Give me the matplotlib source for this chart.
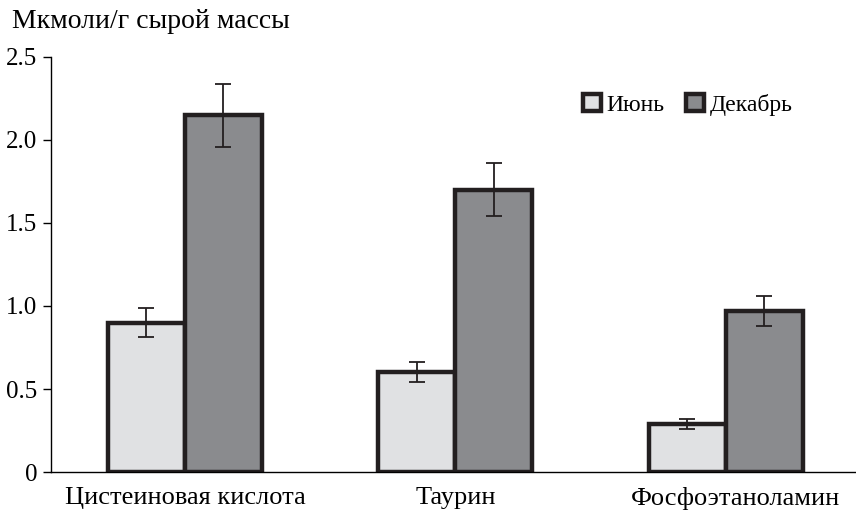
import matplotlib
matplotlib.use("Agg")
import matplotlib.pyplot as plt
import matplotlib.transforms as mtransforms
import numpy as np

categories = ["Цистеиновая кислота", "Таурин", "Фосфоэтаноламин"]
series_names = ["Июнь", "Декабрь"]
june = [0.90, 0.60, 0.29]
june_err = [0.085, 0.06, 0.03]
december = [2.15, 1.70, 0.97]
december_err = [0.19, 0.16, 0.09]
yticks = [0, 0.5, 1.0, 1.5, 2.0, 2.5]
ytick_labels = ["0", "0.5", "1.0", "1.5", "2.0", "2.5"]

plt.rcParams["font.family"] = ["Liberation Serif", "DejaVu Serif"]

fig = plt.figure(figsize=(8.56, 5.11), dpi=100)
ax = fig.add_axes([0.0596, 0.0763, 0.94, 0.8122])

x = np.arange(len(categories))
w = 0.285
edge = "#231f20"
ax.bar(x - w / 2, june, w, color="#e0e1e3", edgecolor=edge, linewidth=3.2,
       label=series_names[0], zorder=2)
ax.bar(x + w / 2, december, w, color="#8a8b8e", edgecolor=edge, linewidth=3.2,
       label=series_names[1], zorder=2)
ax.errorbar(x - w / 2, june, yerr=june_err, fmt="none", ecolor=edge, elinewidth=1.3,
            capsize=6, capthick=1.3, zorder=3)
ax.errorbar(x + w / 2, december, yerr=december_err, fmt="none", ecolor=edge, elinewidth=1.3,
            capsize=6, capthick=1.3, zorder=3)

ax.set_xlim(-0.495, 2.48)
ax.set_ylim(0, 2.5)
ax.set_yticks(yticks)
ax.set_yticklabels(ytick_labels, fontsize=18)
ax.set_xticks(x)
ax.set_xticklabels(categories, fontsize=19)
ax.tick_params(axis="x", length=0, pad=11)
ax.tick_params(axis="y", length=6, width=1, direction="out", pad=4)
for s in ["top", "right"]:
    ax.spines[s].set_visible(False)
ax.spines["left"].set_linewidth(1)
ax.spines["bottom"].set_linewidth(1)

# the last category label sits slightly right of its group centre
last = ax.get_xticklabels()[-1]
last.set_transform(last.get_transform()
                   + mtransforms.ScaledTranslation(0.10, 0, fig.dpi_scale_trans))

fig.legend(loc="center left", bbox_to_anchor=(583 / 856, 1 - 105 / 511), ncol=2,
           frameon=False, fontsize=17, handlelength=0.75, handleheight=0.75,
           handletextpad=0.25, columnspacing=0.9, borderaxespad=0, borderpad=0)

fig.text(0.014, 0.957, "Мкмоли/г сырой массы", fontsize=20, ha="left", va="center")

fig.savefig("out.png", dpi=100)
